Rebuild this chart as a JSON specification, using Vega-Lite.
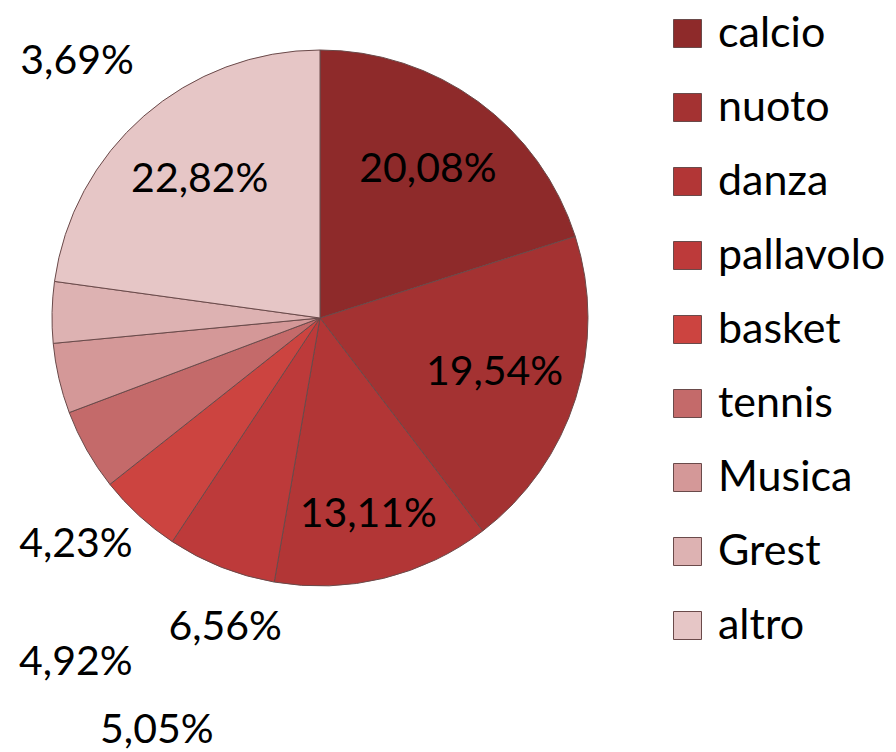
{
  "$schema": "https://vega.github.io/schema/vega-lite/v6.json",
  "width": 640,
  "height": 636,
  "autosize": {"type": "none"},
  "padding": {"left": 0, "top": 0, "right": 256, "bottom": 116},
  "background": "white",
  "config": {
    "view": {"stroke": null},
    "font": "Lato",
    "locale": {"number": {"decimal": ",", "thousands": ".", "grouping": [3], "currency": ["", " €"]}}
  },
  "data": {
    "values": [
      {"sport": "calcio", "value": 0.2008, "rank": 1},
      {"sport": "nuoto", "value": 0.1954, "rank": 2},
      {"sport": "danza", "value": 0.1311, "rank": 3},
      {"sport": "pallavolo", "value": 0.0656, "rank": 4},
      {"sport": "basket", "value": 0.0505, "rank": 5},
      {"sport": "tennis", "value": 0.0492, "rank": 6},
      {"sport": "Musica", "value": 0.0423, "rank": 7},
      {"sport": "Grest", "value": 0.0369, "rank": 8},
      {"sport": "altro", "value": 0.2282, "rank": 9}
    ]
  },
  "encoding": {
    "theta": {"field": "value", "type": "quantitative", "stack": true},
    "order": {"field": "rank", "type": "quantitative"}
  },
  "layer": [
    {
      "mark": {"type": "arc", "outerRadius": 268, "stroke": "#6a4a4a", "strokeWidth": 1},
      "encoding": {
        "color": {
          "field": "sport",
          "type": "nominal",
          "sort": ["calcio", "nuoto", "danza", "pallavolo", "basket", "tennis", "Musica", "Grest", "altro"],
          "scale": {
            "domain": ["calcio", "nuoto", "danza", "pallavolo", "basket", "tennis", "Musica", "Grest", "altro"],
            "range": ["#8e2a2a", "#a43232", "#b23636", "#bd3a3a", "#cc4440", "#c46a6a", "#d49898", "#ddb2b2", "#e6c6c6"]
          },
          "legend": {
            "title": null,
            "orient": "none",
            "legendX": 666,
            "legendY": 12,
            "padding": 0,
            "symbolType": "square",
            "symbolSize": 784,
            "symbolStrokeWidth": 1,
            "labelFontSize": 43,
            "labelFont": "Lato",
            "labelColor": "black",
            "labelOffset": 9,
            "rowPadding": 30,
            "labelLimit": 300
          }
        }
      }
    },
    {
      "mark": {"type": "text", "radius": 183, "fontSize": 41, "color": "black", "align": "center", "baseline": "middle"},
      "encoding": {
        "text": {"condition": {"test": "datum.value >= 0.15", "field": "value", "type": "quantitative", "format": ".2%"}, "value": ""}
      }
    },
    {
      "mark": {"type": "text", "radius": 203, "fontSize": 41, "color": "black", "align": "center", "baseline": "middle"},
      "encoding": {
        "text": {"condition": {"test": "datum.sport === 'danza'", "field": "value", "type": "quantitative", "format": ".2%"}, "value": ""}
      }
    },
    {
      "mark": {"type": "text", "radius": 268, "dx": 25, "dy": -250, "fontSize": 41, "color": "black", "align": "center", "baseline": "middle"},
      "encoding": {
        "text": {"condition": {"test": "datum.sport === 'Grest'", "field": "value", "type": "quantitative", "format": ".2%"}, "value": ""}
      }
    },
    {
      "mark": {"type": "text", "radius": 268, "dx": 17, "dy": 166, "fontSize": 41, "color": "black", "align": "center", "baseline": "middle"},
      "encoding": {
        "text": {"condition": {"test": "datum.sport === 'Musica'", "field": "value", "type": "quantitative", "format": ".2%"}, "value": ""}
      }
    },
    {
      "mark": {"type": "text", "radius": 268, "dx": -11, "dy": 213, "fontSize": 41, "color": "black", "align": "center", "baseline": "middle"},
      "encoding": {
        "text": {"condition": {"test": "datum.sport === 'tennis'", "field": "value", "type": "quantitative", "format": ".2%"}, "value": ""}
      }
    },
    {
      "mark": {"type": "text", "radius": 268, "dx": 18, "dy": 216, "fontSize": 41, "color": "black", "align": "center", "baseline": "middle"},
      "encoding": {
        "text": {"condition": {"test": "datum.sport === 'basket'", "field": "value", "type": "quantitative", "format": ".2%"}, "value": ""}
      }
    },
    {
      "mark": {"type": "text", "radius": 268, "dx": 4, "dy": 61, "fontSize": 41, "color": "black", "align": "center", "baseline": "middle"},
      "encoding": {
        "text": {"condition": {"test": "datum.sport === 'pallavolo'", "field": "value", "type": "quantitative", "format": ".2%"}, "value": ""}
      }
    }
  ]
}
